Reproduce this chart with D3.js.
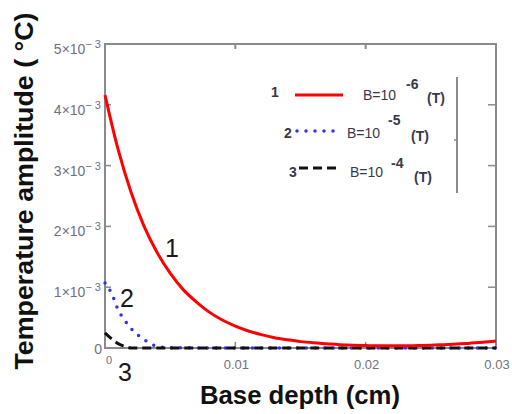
<!DOCTYPE html>
<html>
<head>
<meta charset="utf-8">
<script src="https://cdn.jsdelivr.net/npm/d3@7"></script>
<style>
  body { margin: 0; background: #fff; }
  svg { display: block; font-family: "Liberation Sans", Arial, sans-serif; }
</style>
</head>
<body>
<div id="chartContainer"></div>
<script>
// values (amplitude in units of 1e-3 °C)
const depthRed = [0, 0.001, 0.002, 0.003, 0.004, 0.005, 0.006, 0.007, 0.008, 0.009, 0.010,
  0.011, 0.012, 0.013, 0.014, 0.015, 0.016, 0.017, 0.018, 0.019, 0.020,
  0.021, 0.022, 0.023, 0.024, 0.025, 0.026, 0.027, 0.028, 0.029, 0.030];
const ampRed = [4.16, 3.27, 2.56, 2.0, 1.57, 1.23, 0.96, 0.76, 0.59, 0.46, 0.36,
  0.28, 0.22, 0.17, 0.135, 0.105, 0.085, 0.07, 0.055, 0.045, 0.04,
  0.035, 0.035, 0.035, 0.04, 0.045, 0.055, 0.065, 0.08, 0.095, 0.115];

const depthBlue = [0, 0.0005, 0.001, 0.0015, 0.002, 0.0025, 0.003, 0.0035, 0.004, 0.005, 0.01, 0.02, 0.03];
const ampBlue = [1.07, 0.9, 0.63, 0.46, 0.32, 0.22, 0.14, 0.07, 0.03, 0.005, 0, 0, 0];

const depthBlack = [0, 0.0004, 0.0008, 0.0012, 0.0016, 0.002, 0.01, 0.02, 0.03];
const ampBlack = [0.25, 0.17, 0.1, 0.05, 0.02, 0, 0, 0, 0];

const yTicks = [0, 1, 2, 3, 4, 5];
const xTicks = [0, 0.01, 0.02, 0.03];
const xTickLabels = ["0", "0.01", "0.02", "0.03"];

const legendNames = ["1", "2", "3"];
const legendExp = ["-6", "-5", "-4"];
const curveLabels = ["1", "2", "3"];

const width = 512, height = 414;
const svg = d3.select("#chartContainer").append("svg")
  .attr("width", width).attr("height", height);

const x = d3.scaleLinear().domain([0, 0.03]).range([105, 496]);
const y = d3.scaleLinear().domain([0, 5]).range([348, 44]);

const frameColor = "#8a8a8a";
const tickColor = "#707084";

// frame
svg.append("rect")
  .attr("x", x(0)).attr("y", y(5))
  .attr("width", x(0.03) - x(0)).attr("height", y(0) - y(5))
  .attr("fill", "none").attr("stroke", frameColor).attr("stroke-width", 2);

// ticks on all four sides
svg.selectAll(".tl").data(yTicks.slice(1, 5)).join("line")
  .attr("x1", x(0)).attr("x2", x(0) + 6)
  .attr("y1", d => y(d)).attr("y2", d => y(d))
  .attr("stroke", frameColor).attr("stroke-width", 1.5);
svg.selectAll(".tr").data(yTicks.slice(1, 5)).join("line")
  .attr("x1", x(0.03)).attr("x2", x(0.03) - 8)
  .attr("y1", d => y(d)).attr("y2", d => y(d))
  .attr("stroke", frameColor).attr("stroke-width", 1.5);
svg.selectAll(".tb").data(xTicks.slice(1, 3)).join("line")
  .attr("x1", d => x(d)).attr("x2", d => x(d))
  .attr("y1", y(0)).attr("y2", y(0) - 6)
  .attr("stroke", frameColor).attr("stroke-width", 1.5);
svg.selectAll(".tt").data(xTicks.slice(1, 3)).join("line")
  .attr("x1", d => x(d)).attr("x2", d => x(d))
  .attr("y1", y(5)).attr("y2", y(5) + 5)
  .attr("stroke", frameColor).attr("stroke-width", 2);

// y tick labels  (n×10^-3)
yTicks.forEach(v => {
  if (v === 0) {
    svg.append("text").attr("x", x(0) - 3).attr("y", y(0) + 6)
      .attr("text-anchor", "end").attr("font-size", 14).attr("fill", tickColor).text("0");
    return;
  }
  const t = svg.append("text").attr("x", x(0) - 4).attr("y", y(v) + 10)
    .attr("text-anchor", "end").attr("font-size", 14).attr("fill", tickColor);
  t.append("tspan").text(v + "×10");
  t.append("tspan").attr("dy", -6).attr("font-size", 11).text("\u2212 3");
});

// x tick labels
svg.selectAll(".xl").data(xTicks).join("text")
  .attr("x", (d, i) => i === 0 ? x(d) + 4 : x(d) + 1)
  .attr("y", (d, i) => i === 0 ? y(0) + 16 : y(0) + 21)
  .attr("text-anchor", "middle")
  .attr("font-size", (d, i) => i === 0 ? 11 : 13)
  .attr("fill", tickColor)
  .text((d, i) => xTickLabels[i]);

// axis titles
svg.append("text")
  .attr("transform", "translate(33,191) rotate(-90)")
  .attr("text-anchor", "middle").attr("font-size", 26).attr("font-weight", "bold")
  .attr("textLength", 357).attr("lengthAdjust", "spacingAndGlyphs")
  .attr("fill", "#111").text("Temperature amplitude ( \u00b0C)");
svg.append("text")
  .attr("x", 300).attr("y", 404)
  .attr("text-anchor", "middle").attr("font-size", 26).attr("font-weight", "bold")
  .attr("textLength", 200).attr("lengthAdjust", "spacingAndGlyphs")
  .attr("fill", "#111").text("Base depth (cm)");

// curves
const line = d3.line().x(d => x(d[0])).y(d => y(d[1])).curve(d3.curveMonotoneX);
const series = [
  { xs: depthBlue, ys: ampBlue, color: "#2f2fff", dash: "0 9", w: 3.5, cap: "round" },
  { xs: depthBlack, ys: ampBlack, color: "#111", dash: "9 5", w: 3, cap: "butt" },
  { xs: depthRed, ys: ampRed, color: "#ff0000", dash: null, w: 3, cap: "butt" }
];
series.forEach(s => {
  svg.append("path")
    .datum(s.xs.map((d, i) => [d, s.ys[i]]))
    .attr("d", line)
    .attr("fill", "none")
    .attr("stroke", s.color)
    .attr("stroke-width", s.w)
    .attr("stroke-linecap", s.cap)
    .attr("stroke-dasharray", s.dash);
});

// curve labels
const curveLabelPos = [[165, 257], [120, 307], [118, 381]];
svg.selectAll(".cl").data(curveLabels).join("text")
  .attr("x", (d, i) => curveLabelPos[i][0]).attr("y", (d, i) => curveLabelPos[i][1])
  .attr("font-size", 25).attr("fill", "#1a1a1a").text(d => d);

// legend
const legendSeries = [series[2], series[0], series[1]];
const legendRows = [
  { num: [271, 97], line: [295, 343, 95], txt: [363, 100], exp: [406, 89], t: [427, 103] },
  { num: [284, 138], line: [297, 337, 131], txt: [347, 138], exp: [388, 125], t: [411, 141] },
  { num: [289, 177], line: [299, 337, 168], txt: [350, 177], exp: [391, 168], t: [414, 182] }
];
const legendColor = "#383848";
legendRows.forEach((r, i) => {
  const s = legendSeries[i];
  svg.append("text").attr("x", r.num[0]).attr("y", r.num[1])
    .attr("font-size", 14).attr("font-weight", "bold").attr("fill", legendColor).text(legendNames[i]);
  svg.append("line")
    .attr("x1", r.line[0]).attr("x2", r.line[1]).attr("y1", r.line[2]).attr("y2", r.line[2])
    .attr("stroke", s.color).attr("stroke-width", s.w)
    .attr("stroke-linecap", s.cap).attr("stroke-dasharray", s.dash);
  svg.append("text").attr("x", r.txt[0]).attr("y", r.txt[1])
    .attr("font-size", 14).attr("fill", legendColor).text("B=10");
  svg.append("text").attr("x", r.exp[0]).attr("y", r.exp[1])
    .attr("font-size", 14).attr("font-weight", "bold").attr("fill", legendColor).text(legendExp[i]);
  svg.append("text").attr("x", r.t[0]).attr("y", r.t[1])
    .attr("font-size", 14).attr("font-weight", "bold").attr("fill", legendColor).text("(T)");
});
svg.append("line").attr("x1", 457).attr("x2", 457).attr("y1", 77).attr("y2", 193)
  .attr("stroke", frameColor).attr("stroke-width", 2);
svg.append("line").attr("x1", 454).attr("x2", 457).attr("y1", 140).attr("y2", 140)
  .attr("stroke", frameColor).attr("stroke-width", 1.5);
</script>
</body>
</html>
